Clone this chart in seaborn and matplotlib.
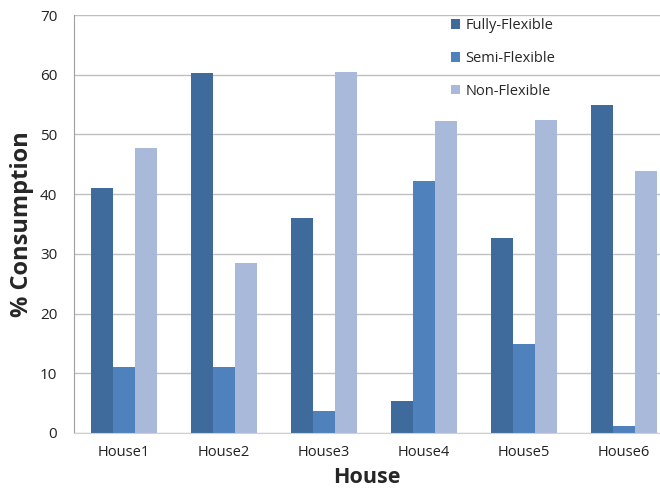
import pandas as pd
import numpy as np
import seaborn as sns
import matplotlib.pyplot as plt
from matplotlib.ticker import FixedLocator

# Data
houses = ["House1", "House2", "House3", "House4", "House5", "House6"]
fully_flexible = [41.1, 60.3, 36.0, 5.4, 32.6, 54.9]
semi_flexible = [11.0, 11.0, 3.7, 42.2, 14.9, 1.1]
non_flexible = [47.8, 28.5, 60.4, 52.3, 52.4, 43.9]
series_names = ["Fully-Flexible", "Semi-Flexible", "Non-Flexible"]
colors = ["#3F6A9C", "#4F81BD", "#A8B9D9"]

df = pd.DataFrame({
    "House": houses * 3,
    "Type": np.repeat(series_names, len(houses)),
    "Consumption": fully_flexible + semi_flexible + non_flexible,
})

sns.set_style("white")
plt.rcParams["font.family"] = ["Open Sans", "DejaVu Sans"]

fig = plt.figure(figsize=(6.6, 4.92), dpi=100)
ax = fig.add_axes([0.112, 0.120, 0.888, 0.8495])

sns.barplot(data=df, x="House", y="Consumption", hue="Type",
            palette=colors, width=0.66, gap=0, saturation=1,
            edgecolor="none", ax=ax)

ax.set_ylim(0, 70)
ax.set_xlim(-0.5, 5.36)
ax.set_yticks(range(0, 71, 10))
ax.yaxis.grid(True, color="#BFBFBF", linewidth=1)
ax.set_axisbelow(True)

# category boundary ticks, labels at centres
ax.xaxis.set_major_locator(FixedLocator(np.arange(-0.5, 6, 1)))
ax.xaxis.set_minor_locator(FixedLocator(np.arange(0, 6)))
ax.set_xticklabels([""] * 7)
ax.set_xticklabels(houses, minor=True, fontsize=10.5, color="#222222")
ax.tick_params(axis="x", which="major", length=4, color="#A0A0A0", direction="out")
ax.tick_params(axis="x", which="minor", length=0, pad=9)
ax.tick_params(axis="y", length=6, color="#A0A0A0", labelsize=11,
               labelcolor="#222222", pad=6)

for s in ["top", "right"]:
    ax.spines[s].set_visible(False)
ax.spines["left"].set_color("#A0A0A0")
ax.spines["bottom"].set_color("#D0D0D0")

ax.set_xlabel("House", fontsize=15.5, fontweight="bold", labelpad=5)
ax.set_ylabel("% Consumption", fontsize=17, fontweight="bold", labelpad=4)

leg = ax.legend(loc="upper left", bbox_to_anchor=(0.621, 1.024), frameon=False,
                fontsize=10.5, handlelength=0.6, handleheight=0.6,
                labelspacing=1.23, handletextpad=0.4)

fig.savefig("out.png", dpi=100)
